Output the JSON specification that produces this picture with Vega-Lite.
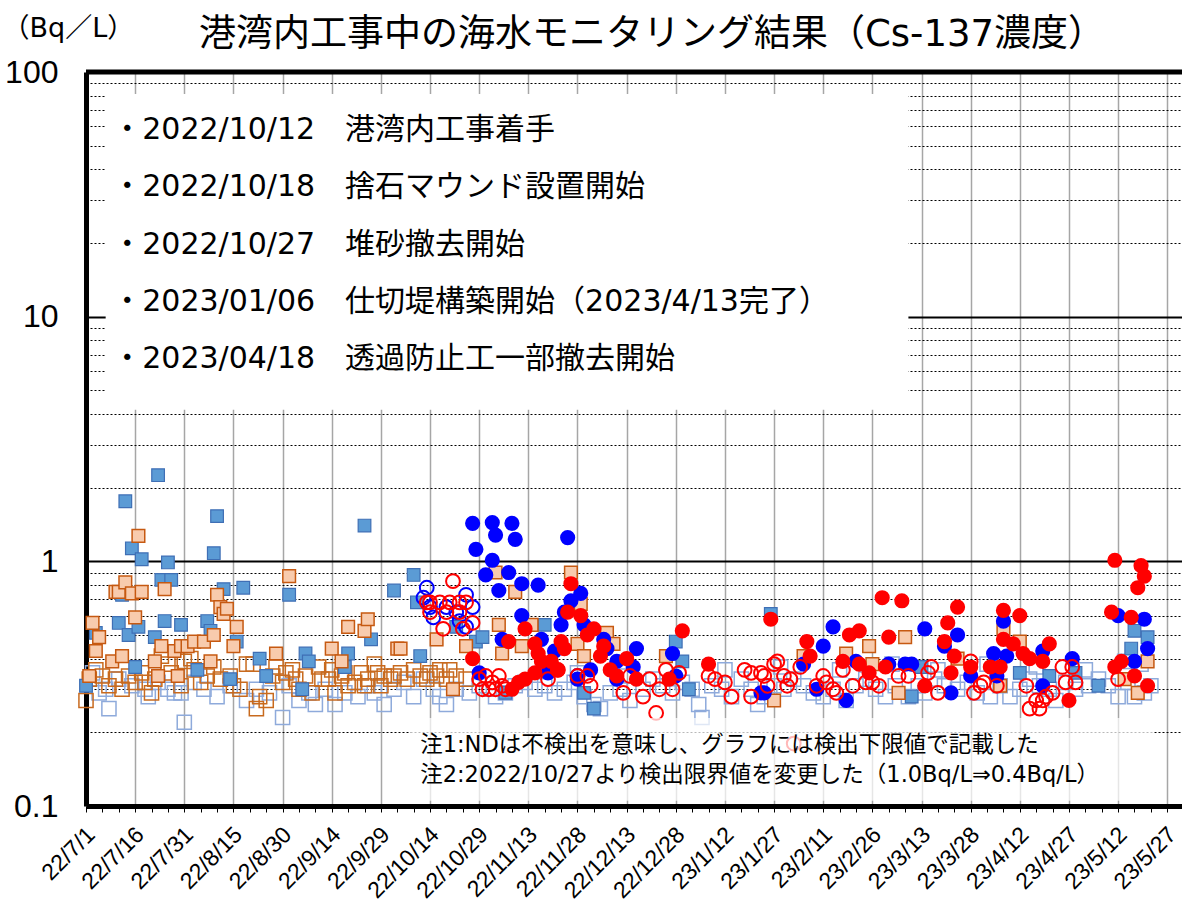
{
"$schema": "https://vega.github.io/schema/vega-lite/v6.json",
"width": 1096, "height": 734,
"autosize": {"type": "none"},
"padding": {"left": 86, "top": 72, "right": 0, "bottom": 117},
"background": "white",
"config": {"view": {"stroke": null}},
"title": {"text": "港湾内工事中の海水モニタリング結果（Cs-137濃度）", "font": "DejaVu Sans, Noto Sans CJK JP", "fontSize": 37, "fontWeight": "normal", "color": "black", "anchor": "middle", "frame": "group", "offset": 14, "dx": 18, "dy": 54},
"datasets": {
"bsqh": [
{"d":"2022-07-03","v":0.35},{"d":"2022-07-05","v":0.29},{"d":"2022-07-07","v":0.30},{"d":"2022-07-08","v":0.25},{"d":"2022-07-11","v":0.33},{"d":"2022-07-15","v":0.31},{"d":"2022-07-19","v":0.30},{"d":"2022-07-20","v":0.28},{"d":"2022-07-23","v":0.32},{"d":"2022-07-26","v":0.30},{"d":"2022-07-28","v":0.29},{"d":"2022-07-30","v":0.29},{"d":"2022-07-31","v":0.22},{"d":"2022-08-03","v":0.32},{"d":"2022-08-06","v":0.30},{"d":"2022-08-10","v":0.28},{"d":"2022-08-14","v":0.31},{"d":"2022-08-19","v":0.27},{"d":"2022-08-22","v":0.30},{"d":"2022-08-26","v":0.29},{"d":"2022-08-30","v":0.23},{"d":"2022-09-01","v":0.31},{"d":"2022-09-04","v":0.27},{"d":"2022-09-07","v":0.29},{"d":"2022-09-09","v":0.26},{"d":"2022-09-12","v":0.30},{"d":"2022-09-15","v":0.26},{"d":"2022-09-18","v":0.29},{"d":"2022-09-22","v":0.28},{"d":"2022-09-25","v":0.31},{"d":"2022-09-27","v":0.29},{"d":"2022-09-30","v":0.26},{"d":"2022-10-03","v":0.30},{"d":"2022-10-06","v":0.32},{"d":"2022-10-09","v":0.28},{"d":"2022-10-12","v":0.33},{"d":"2022-10-15","v":0.30},{"d":"2022-10-17","v":0.28},{"d":"2022-10-19","v":0.26},{"d":"2022-10-22","v":0.30},{"d":"2022-10-26","v":0.29},{"d":"2022-10-29","v":0.31},{"d":"2022-11-01","v":0.30},{"d":"2022-11-03","v":0.28},{"d":"2022-11-06","v":0.29},{"d":"2022-11-09","v":0.31},{"d":"2022-11-12","v":0.32},{"d":"2022-11-15","v":0.30},{"d":"2022-11-18","v":0.31},{"d":"2022-11-21","v":0.29},{"d":"2022-11-24","v":0.30},{"d":"2022-11-27","v":0.32},{"d":"2022-11-28","v":0.35},{"d":"2022-11-30","v":0.28},{"d":"2022-12-03","v":0.26},{"d":"2022-12-05","v":0.25},{"d":"2022-12-08","v":0.29},{"d":"2022-12-11","v":0.30},{"d":"2022-12-13","v":0.34},{"d":"2022-12-14","v":0.27},{"d":"2022-12-18","v":0.30},{"d":"2022-12-21","v":0.33},{"d":"2022-12-24","v":0.31},{"d":"2022-12-27","v":0.29},{"d":"2022-12-30","v":0.32},{"d":"2023-01-02","v":0.30},{"d":"2023-01-04","v":0.26},{"d":"2023-01-05","v":0.23},{"d":"2023-01-08","v":0.31},{"d":"2023-01-11","v":0.30},{"d":"2023-01-12","v":0.36},{"d":"2023-01-14","v":0.28},{"d":"2023-01-17","v":0.33},{"d":"2023-01-20","v":0.30},{"d":"2023-01-22","v":0.26},{"d":"2023-01-24","v":0.28},{"d":"2023-01-27","v":0.31},{"d":"2023-01-29","v":0.37},{"d":"2023-01-30","v":0.30},{"d":"2023-02-02","v":0.33},{"d":"2023-02-05","v":0.31},{"d":"2023-02-08","v":0.29},{"d":"2023-02-11","v":0.28},{"d":"2023-02-14","v":0.30},{"d":"2023-02-16","v":0.36},{"d":"2023-02-18","v":0.27},{"d":"2023-02-21","v":0.31},{"d":"2023-02-24","v":0.33},{"d":"2023-02-27","v":0.30},{"d":"2023-03-02","v":0.28},{"d":"2023-03-04","v":0.38},{"d":"2023-03-05","v":0.31},{"d":"2023-03-09","v":0.28},{"d":"2023-03-12","v":0.31},{"d":"2023-03-14","v":0.29},{"d":"2023-03-17","v":0.33},{"d":"2023-03-18","v":0.36},{"d":"2023-03-20","v":0.31},{"d":"2023-03-24","v":0.30},{"d":"2023-03-27","v":0.32},{"d":"2023-03-30","v":0.29},{"d":"2023-04-02","v":0.38},{"d":"2023-04-03","v":0.28},{"d":"2023-04-06","v":0.31},{"d":"2023-04-09","v":0.28},{"d":"2023-04-12","v":0.30},{"d":"2023-04-15","v":0.33},{"d":"2023-04-17","v":0.37},{"d":"2023-04-18","v":0.31},{"d":"2023-04-21","v":0.30},{"d":"2023-04-23","v":0.27},{"d":"2023-04-26","v":0.32},{"d":"2023-04-29","v":0.30},{"d":"2023-05-02","v":0.36},{"d":"2023-05-03","v":0.31},{"d":"2023-05-06","v":0.33},{"d":"2023-05-09","v":0.31},{"d":"2023-05-12","v":0.28},{"d":"2023-05-14","v":0.39},{"d":"2023-05-15","v":0.32},{"d":"2023-05-17","v":0.28},{"d":"2023-05-19","v":0.38},{"d":"2023-05-20","v":0.29},{"d":"2023-05-22","v":0.31}
],
"osqh": [
{"d":"2022-07-01","v":0.27},{"d":"2022-07-02","v":0.33},{"d":"2022-07-04","v":0.36},{"d":"2022-07-06","v":0.34},{"d":"2022-07-08","v":0.31},{"d":"2022-07-10","v":0.33},{"d":"2022-07-12","v":0.30},{"d":"2022-07-14","v":0.34},{"d":"2022-07-16","v":0.32},{"d":"2022-07-18","v":0.35},{"d":"2022-07-19","v":0.32},{"d":"2022-07-21","v":0.29},{"d":"2022-07-22","v":0.33},{"d":"2022-07-24","v":0.41},{"d":"2022-07-26","v":0.38},{"d":"2022-07-27","v":0.35},{"d":"2022-07-30","v":0.31},{"d":"2022-07-31","v":0.39},{"d":"2022-08-02","v":0.40},{"d":"2022-08-03","v":0.36},{"d":"2022-08-05","v":0.32},{"d":"2022-08-07","v":0.34},{"d":"2022-08-09","v":0.37},{"d":"2022-08-11","v":0.33},{"d":"2022-08-14","v":0.34},{"d":"2022-08-15","v":0.31},{"d":"2022-08-17","v":0.30},{"d":"2022-08-19","v":0.38},{"d":"2022-08-21","v":0.38},{"d":"2022-08-22","v":0.25},{"d":"2022-08-23","v":0.28},{"d":"2022-08-25","v":0.27},{"d":"2022-08-27","v":0.34},{"d":"2022-08-28","v":0.37},{"d":"2022-08-30","v":0.32},{"d":"2022-08-31","v":0.35},{"d":"2022-09-02","v":0.36},{"d":"2022-09-03","v":0.33},{"d":"2022-09-04","v":0.30},{"d":"2022-09-06","v":0.34},{"d":"2022-09-08","v":0.29},{"d":"2022-09-10","v":0.37},{"d":"2022-09-11","v":0.33},{"d":"2022-09-13","v":0.33},{"d":"2022-09-14","v":0.36},{"d":"2022-09-15","v":0.29},{"d":"2022-09-17","v":0.34},{"d":"2022-09-18","v":0.35},{"d":"2022-09-19","v":0.31},{"d":"2022-09-21","v":0.32},{"d":"2022-09-23","v":0.35},{"d":"2022-09-24","v":0.31},{"d":"2022-09-25","v":0.33},{"d":"2022-09-27","v":0.38},{"d":"2022-09-28","v":0.35},{"d":"2022-09-29","v":0.31},{"d":"2022-09-30","v":0.34},{"d":"2022-10-02","v":0.33},{"d":"2022-10-03","v":0.34},{"d":"2022-10-05","v":0.35},{"d":"2022-10-07","v":0.33},{"d":"2022-10-09","v":0.36},{"d":"2022-10-11","v":0.34},{"d":"2022-10-13","v":0.33},{"d":"2022-10-14","v":0.35},{"d":"2022-10-16","v":0.34},{"d":"2022-10-17","v":0.36},{"d":"2022-10-19","v":0.33},{"d":"2022-10-20","v":0.36},{"d":"2022-10-22","v":0.34},{"d":"2022-10-25","v":0.33}
],
"bsq": [
{"d":"2022-07-01","v":0.31},{"d":"2022-07-04","v":0.51},{"d":"2022-07-11","v":0.56},{"d":"2022-07-12","v":0.73},{"d":"2022-07-13","v":1.76},{"d":"2022-07-14","v":0.50},{"d":"2022-07-15","v":1.13},{"d":"2022-07-16","v":0.37},{"d":"2022-07-17","v":0.54},{"d":"2022-07-18","v":1.02},{"d":"2022-07-22","v":0.49},{"d":"2022-07-23","v":2.25},{"d":"2022-07-24","v":0.84},{"d":"2022-07-25","v":0.57},{"d":"2022-07-26","v":0.99},{"d":"2022-07-27","v":0.84},{"d":"2022-07-30","v":0.55},{"d":"2022-08-04","v":0.36},{"d":"2022-08-07","v":0.57},{"d":"2022-08-08","v":0.52},{"d":"2022-08-09","v":1.08},{"d":"2022-08-10","v":1.53},{"d":"2022-08-12","v":0.77},{"d":"2022-08-14","v":0.33},{"d":"2022-08-16","v":0.47},{"d":"2022-08-18","v":0.78},{"d":"2022-08-23","v":0.40},{"d":"2022-08-25","v":0.34},{"d":"2022-09-01","v":0.73},{"d":"2022-09-05","v":0.30},{"d":"2022-09-06","v":0.42},{"d":"2022-09-07","v":0.39},{"d":"2022-09-18","v":0.37},{"d":"2022-09-19","v":0.42},{"d":"2022-09-24","v":1.40},{"d":"2022-09-26","v":0.48},{"d":"2022-10-03","v":0.76},{"d":"2022-10-09","v":0.88},{"d":"2022-10-10","v":0.68},{"d":"2022-10-11","v":0.41},{"d":"2022-10-22","v":0.54},{"d":"2022-10-28","v":0.47},{"d":"2022-10-30","v":0.49},{"d":"2022-11-06","v":0.29},{"d":"2022-11-18","v":0.55},{"d":"2022-11-30","v":0.29},{"d":"2022-12-03","v":0.25},{"d":"2022-12-28","v":0.47},{"d":"2022-12-30","v":0.39},{"d":"2023-01-01","v":0.30},{"d":"2023-01-26","v":0.61},{"d":"2023-03-10","v":0.28},{"d":"2023-03-13","v":0.37},{"d":"2023-04-12","v":0.35},{"d":"2023-04-21","v":0.34},{"d":"2023-04-29","v":0.35},{"d":"2023-05-06","v":0.31},{"d":"2023-05-16","v":0.44},{"d":"2023-05-17","v":0.52},{"d":"2023-05-21","v":0.49}
],
"osq": [
{"d":"2022-07-02","v":0.34},{"d":"2022-07-03","v":0.56},{"d":"2022-07-04","v":0.43},{"d":"2022-07-05","v":0.49},{"d":"2022-07-09","v":0.39},{"d":"2022-07-10","v":0.75},{"d":"2022-07-11","v":0.75},{"d":"2022-07-12","v":0.41},{"d":"2022-07-13","v":0.82},{"d":"2022-07-15","v":0.74},{"d":"2022-07-16","v":0.59},{"d":"2022-07-17","v":1.27},{"d":"2022-07-18","v":0.75},{"d":"2022-07-22","v":0.39},{"d":"2022-07-23","v":0.34},{"d":"2022-07-24","v":0.45},{"d":"2022-07-25","v":0.77},{"d":"2022-07-28","v":0.43},{"d":"2022-07-29","v":0.34},{"d":"2022-07-30","v":0.45},{"d":"2022-08-01","v":0.45},{"d":"2022-08-03","v":0.47},{"d":"2022-08-06","v":0.47},{"d":"2022-08-08","v":0.39},{"d":"2022-08-09","v":0.50},{"d":"2022-08-10","v":0.73},{"d":"2022-08-11","v":0.65},{"d":"2022-08-12","v":0.61},{"d":"2022-08-13","v":0.64},{"d":"2022-08-15","v":0.45},{"d":"2022-08-16","v":0.54},{"d":"2022-08-28","v":0.42},{"d":"2022-09-01","v":0.87},{"d":"2022-09-14","v":0.44},{"d":"2022-09-17","v":0.39},{"d":"2022-09-19","v":0.54},{"d":"2022-09-24","v":0.52},{"d":"2022-09-25","v":0.58},{"d":"2022-10-04","v":0.44},{"d":"2022-10-05","v":0.44},{"d":"2022-10-16","v":0.48},{"d":"2022-10-21","v":0.30},{"d":"2022-10-25","v":0.45},{"d":"2022-11-03","v":0.90},{"d":"2022-11-04","v":0.55},{"d":"2022-11-05","v":0.42},{"d":"2022-11-09","v":0.75},{"d":"2022-11-11","v":0.45},{"d":"2022-11-14","v":0.55},{"d":"2022-11-26","v":0.90},{"d":"2022-11-28","v":0.46},{"d":"2022-11-29","v":0.67},{"d":"2022-11-30","v":0.41},{"d":"2022-12-07","v":0.51},{"d":"2022-12-09","v":0.46},{"d":"2022-12-25","v":0.41},{"d":"2023-01-27","v":0.27},{"d":"2023-02-05","v":0.41},{"d":"2023-02-18","v":0.42},{"d":"2023-02-25","v":0.45},{"d":"2023-02-26","v":0.38},{"d":"2023-03-06","v":0.29},{"d":"2023-03-08","v":0.49},{"d":"2023-03-24","v":0.40},{"d":"2023-04-06","v":0.31},{"d":"2023-04-07","v":0.53},{"d":"2023-04-12","v":0.47},{"d":"2023-05-14","v":0.33},{"d":"2023-05-18","v":0.29},{"d":"2023-05-21","v":0.39}
],
"bch": [
{"d":"2022-10-12","v":0.71},{"d":"2022-10-13","v":0.78},{"d":"2022-10-14","v":0.65},{"d":"2022-10-15","v":0.59},{"d":"2022-10-19","v":0.65},{"d":"2022-10-22","v":0.62},{"d":"2022-10-23","v":0.57},{"d":"2022-10-25","v":0.73},{"d":"2022-10-25","v":0.54},{"d":"2022-10-27","v":0.65},{"d":"2022-11-20","v":0.37},{"d":"2022-11-28","v":0.34}
],
"bc": [
{"d":"2022-10-27","v":1.43},{"d":"2022-10-28","v":1.12},{"d":"2022-10-29","v":0.35},{"d":"2022-10-31","v":0.88},{"d":"2022-11-02","v":1.44},{"d":"2022-11-02","v":1.01},{"d":"2022-11-03","v":1.28},{"d":"2022-11-04","v":0.76},{"d":"2022-11-05","v":0.48},{"d":"2022-11-07","v":0.90},{"d":"2022-11-08","v":1.43},{"d":"2022-11-09","v":1.23},{"d":"2022-11-11","v":0.81},{"d":"2022-11-11","v":0.60},{"d":"2022-11-16","v":0.80},{"d":"2022-11-17","v":0.48},{"d":"2022-11-19","v":0.35},{"d":"2022-11-21","v":0.43},{"d":"2022-11-23","v":0.55},{"d":"2022-11-24","v":0.62},{"d":"2022-11-25","v":1.25},{"d":"2022-11-26","v":0.69},{"d":"2022-11-28","v":0.33},{"d":"2022-11-29","v":0.74},{"d":"2022-11-30","v":0.55},{"d":"2022-12-02","v":0.36},{"d":"2022-12-06","v":0.48},{"d":"2022-12-07","v":0.44},{"d":"2022-12-10","v":0.39},{"d":"2022-12-10","v":0.33},{"d":"2022-12-15","v":0.37},{"d":"2022-12-16","v":0.44},{"d":"2022-12-27","v":0.42},{"d":"2022-12-28","v":0.34},{"d":"2023-01-23","v":0.29},{"d":"2023-01-24","v":0.29},{"d":"2023-02-05","v":0.38},{"d":"2023-02-09","v":0.30},{"d":"2023-02-11","v":0.45},{"d":"2023-02-14","v":0.54},{"d":"2023-02-18","v":0.27},{"d":"2023-02-21","v":0.39},{"d":"2023-03-03","v":0.38},{"d":"2023-03-08","v":0.38},{"d":"2023-03-10","v":0.38},{"d":"2023-03-14","v":0.53},{"d":"2023-03-20","v":0.45},{"d":"2023-03-22","v":0.29},{"d":"2023-03-24","v":0.50},{"d":"2023-03-28","v":0.34},{"d":"2023-04-04","v":0.42},{"d":"2023-04-05","v":0.34},{"d":"2023-04-07","v":0.57},{"d":"2023-04-08","v":0.41},{"d":"2023-04-19","v":0.43},{"d":"2023-04-19","v":0.31},{"d":"2023-04-28","v":0.40},{"d":"2023-05-12","v":0.60},{"d":"2023-05-17","v":0.39},{"d":"2023-05-20","v":0.58},{"d":"2023-05-21","v":0.44}
],
"rch": [
{"d":"2022-10-13","v":0.68},{"d":"2022-10-14","v":0.68},{"d":"2022-10-14","v":0.62},{"d":"2022-10-17","v":0.68},{"d":"2022-10-18","v":0.53},{"d":"2022-10-19","v":0.62},{"d":"2022-10-20","v":0.68},{"d":"2022-10-21","v":0.83},{"d":"2022-10-23","v":0.68},{"d":"2022-10-23","v":0.62},{"d":"2022-10-24","v":0.53},{"d":"2022-10-25","v":0.68},{"d":"2022-10-27","v":0.56},{"d":"2022-10-29","v":0.33},{"d":"2022-10-30","v":0.30},{"d":"2022-10-31","v":0.34},{"d":"2022-11-01","v":0.30},{"d":"2022-11-02","v":0.32},{"d":"2022-11-03","v":0.30},{"d":"2022-11-04","v":0.34},{"d":"2022-11-05","v":0.31},{"d":"2022-11-06","v":0.30},{"d":"2022-11-19","v":0.33},{"d":"2022-11-22","v":0.36},{"d":"2022-11-28","v":0.34},{"d":"2022-12-01","v":0.34},{"d":"2022-12-02","v":0.31},{"d":"2022-12-12","v":0.29},{"d":"2022-12-14","v":0.34},{"d":"2022-12-18","v":0.28},{"d":"2022-12-20","v":0.33},{"d":"2022-12-22","v":0.24},{"d":"2022-12-23","v":0.30},{"d":"2022-12-25","v":0.36},{"d":"2022-12-27","v":0.30},{"d":"2022-12-29","v":0.35},{"d":"2023-01-07","v":0.34},{"d":"2023-01-09","v":0.33},{"d":"2023-01-12","v":0.32},{"d":"2023-01-14","v":0.28},{"d":"2023-01-18","v":0.36},{"d":"2023-01-20","v":0.35},{"d":"2023-01-20","v":0.28},{"d":"2023-01-23","v":0.35},{"d":"2023-01-24","v":0.34},{"d":"2023-01-25","v":0.31},{"d":"2023-01-27","v":0.38},{"d":"2023-01-28","v":0.39},{"d":"2023-01-30","v":0.34},{"d":"2023-01-31","v":0.31},{"d":"2023-02-01","v":0.33},{"d":"2023-02-02","v":0.18},{"d":"2023-02-04","v":0.37},{"d":"2023-02-09","v":0.31},{"d":"2023-02-11","v":0.34},{"d":"2023-02-12","v":0.32},{"d":"2023-02-14","v":0.30},{"d":"2023-02-15","v":0.29},{"d":"2023-02-17","v":0.36},{"d":"2023-02-20","v":0.31},{"d":"2023-02-24","v":0.32},{"d":"2023-02-26","v":0.32},{"d":"2023-02-28","v":0.31},{"d":"2023-03-06","v":0.34},{"d":"2023-03-09","v":0.34},{"d":"2023-03-15","v":0.35},{"d":"2023-03-16","v":0.37},{"d":"2023-03-18","v":0.29},{"d":"2023-03-28","v":0.39},{"d":"2023-03-29","v":0.29},{"d":"2023-03-31","v":0.31},{"d":"2023-04-01","v":0.32},{"d":"2023-04-05","v":0.31},{"d":"2023-04-14","v":0.31},{"d":"2023-04-15","v":0.25},{"d":"2023-04-17","v":0.27},{"d":"2023-04-18","v":0.25},{"d":"2023-04-19","v":0.27},{"d":"2023-04-20","v":0.28},{"d":"2023-04-22","v":0.29},{"d":"2023-04-25","v":0.37},{"d":"2023-04-26","v":0.32},{"d":"2023-04-28","v":0.37},{"d":"2023-04-29","v":0.32},{"d":"2023-05-12","v":0.33}
],
"rc": [
{"d":"2022-10-27","v":0.40},{"d":"2022-11-07","v":0.47},{"d":"2022-11-08","v":0.30},{"d":"2022-11-10","v":0.32},{"d":"2022-11-12","v":0.53},{"d":"2022-11-12","v":0.33},{"d":"2022-11-15","v":0.46},{"d":"2022-11-15","v":0.35},{"d":"2022-11-16","v":0.42},{"d":"2022-11-17","v":0.39},{"d":"2022-11-20","v":0.39},{"d":"2022-11-22","v":0.36},{"d":"2022-11-23","v":0.47},{"d":"2022-11-24","v":0.44},{"d":"2022-11-25","v":0.62},{"d":"2022-11-26","v":0.81},{"d":"2022-11-29","v":0.60},{"d":"2022-12-01","v":0.50},{"d":"2022-12-03","v":0.53},{"d":"2022-12-05","v":0.41},{"d":"2022-12-06","v":0.45},{"d":"2022-12-08","v":0.36},{"d":"2022-12-10","v":0.34},{"d":"2022-12-13","v":0.40},{"d":"2022-12-16","v":0.33},{"d":"2022-12-26","v":0.33},{"d":"2022-12-30","v":0.52},{"d":"2023-01-07","v":0.38},{"d":"2023-01-26","v":0.58},{"d":"2023-02-06","v":0.47},{"d":"2023-02-07","v":0.41},{"d":"2023-02-17","v":0.39},{"d":"2023-02-19","v":0.50},{"d":"2023-02-22","v":0.52},{"d":"2023-02-22","v":0.38},{"d":"2023-02-25","v":0.35},{"d":"2023-03-01","v":0.71},{"d":"2023-03-02","v":0.37},{"d":"2023-03-03","v":0.49},{"d":"2023-03-07","v":0.69},{"d":"2023-03-14","v":0.31},{"d":"2023-03-20","v":0.47},{"d":"2023-03-21","v":0.56},{"d":"2023-03-22","v":0.35},{"d":"2023-03-23","v":0.41},{"d":"2023-03-24","v":0.65},{"d":"2023-03-28","v":0.37},{"d":"2023-04-03","v":0.37},{"d":"2023-04-06","v":0.37},{"d":"2023-04-07","v":0.63},{"d":"2023-04-07","v":0.48},{"d":"2023-04-10","v":0.46},{"d":"2023-04-12","v":0.60},{"d":"2023-04-13","v":0.42},{"d":"2023-04-15","v":0.40},{"d":"2023-04-19","v":0.39},{"d":"2023-04-21","v":0.46},{"d":"2023-04-27","v":0.27},{"d":"2023-05-10","v":0.62},{"d":"2023-05-11","v":1.01},{"d":"2023-05-11","v":0.37},{"d":"2023-05-13","v":0.39},{"d":"2023-05-16","v":0.59},{"d":"2023-05-17","v":0.34},{"d":"2023-05-18","v":0.78},{"d":"2023-05-19","v":0.96},{"d":"2023-05-20","v":0.87},{"d":"2023-05-21","v":0.31}
]
},
"layer": [
{
"encoding": {
"x": {"field": "d", "type": "temporal",
 "scale": {"type": "utc", "domain": [1656633600000, 1685534400000]},
 "axis": {
  "title": null, "tickCount": 200,
  "values": [1656633600000,1657065600000,1657497600000,1657929600000,1658361600000,1658793600000,1659225600000,1659657600000,1660089600000,1660521600000,1660953600000,1661385600000,1661817600000,1662249600000,1662681600000,1663113600000,1663545600000,1663977600000,1664409600000,1664841600000,1665273600000,1665705600000,1666137600000,1666569600000,1667001600000,1667433600000,1667865600000,1668297600000,1668729600000,1669161600000,1669593600000,1670025600000,1670457600000,1670889600000,1671321600000,1671753600000,1672185600000,1672617600000,1673049600000,1673481600000,1673913600000,1674345600000,1674777600000,1675209600000,1675641600000,1676073600000,1676505600000,1676937600000,1677369600000,1677801600000,1678233600000,1678665600000,1679097600000,1679529600000,1679961600000,1680393600000,1680825600000,1681257600000,1681689600000,1682121600000,1682553600000,1682985600000,1683417600000,1683849600000,1684281600000,1684713600000,1685145600000],
  "labelExpr": "round((datum.value - 1656633600000) / 86400000) % 15 === 0 ? utcFormat(datum.value, '%y/%-m/%-d') : ''",
  "labelAngle": -45, "labelFont": "Liberation Sans", "labelFontSize": 23, "labelColor": "black", "labelPadding": 11, "labelOffset": -3,
  "labelOverlap": false, "labelBound": false, "labelFlush": false,
  "domainColor": "black", "domainWidth": 5,
  "ticks": true, "tickColor": "black", "tickSize": 6, "tickWidth": 1,
  "grid": true, "gridColor": "#a6a6a6", "gridWidth": 1.5,
  "gridOpacity": {"condition": {"test": "round((datum.value - 1656633600000) / 86400000) % 15 === 0", "value": 1}, "value": 0}
 }
},
"y": {"field": "v", "type": "quantitative",
 "scale": {"type": "log", "domain": [0.1, 100], "nice": false},
 "axis": {
  "tickCount": 200,
  "values": [0.1,0.2,0.3,0.4,0.5,0.6,0.7,0.8,0.9,1,2,3,4,5,6,7,8,9,10,20,30,40,50,60,70,80,90,100],
  "title": "（Bq／L）", "titleAngle": 0, "titleX": -84, "titleY": -44, "titleAlign": "left", "titleBaseline": "middle",
  "titleFont": "DejaVu Sans, Noto Sans CJK JP", "titleFontSize": 27, "titleFontWeight": "normal", "titleColor": "black",
  "labelExpr": "indexof([0.1, 1, 10, 100], datum.value) >= 0 ? format(datum.value, '~g') : ''",
  "labelFont": "Liberation Sans", "labelFontSize": 32, "labelColor": "black", "labelPadding": 28,
  "labelOverlap": false, "labelBound": false, "labelFlush": false,
  "ticks": false, "tickSize": 0,
  "domainColor": "black", "domainWidth": 5,
  "grid": true, "gridColor": "black",
  "gridWidth": {"condition": {"test": "datum.value === 1 || datum.value === 10", "value": 2}, "value": 1},
  "gridDash": {"condition": {"test": "datum.value === 1 || datum.value === 10", "value": []}, "value": [2, 2]},
  "gridOpacity": {"condition": {"test": "datum.value === 0.1 || datum.value === 100", "value": 0}, "value": 1}
 }
}
},
"layer": [
{"data": {"name": "bsqh"}, "mark": {"type": "point", "shape": "square", "filled": false, "size": 200, "color": "#8eaadb", "stroke": "#8eaadb", "strokeWidth": 1.5, "opacity": 1}},
{"data": {"name": "osqh"}, "mark": {"type": "point", "shape": "square", "filled": false, "size": 200, "color": "#c86a1e", "stroke": "#c86a1e", "strokeWidth": 1.5, "opacity": 1}},
{"data": {"name": "bsq"}, "mark": {"type": "point", "shape": "square", "filled": true, "size": 160, "color": "#5b9bd5", "fill": "#5b9bd5", "stroke": "#3f6fb5", "strokeWidth": 1.2, "opacity": 1}},
{"data": {"name": "osq"}, "mark": {"type": "point", "shape": "square", "filled": true, "size": 160, "color": "#f8cbad", "fill": "#f8cbad", "stroke": "#c65911", "strokeWidth": 1.5, "opacity": 1}},
{"data": {"name": "bch"}, "mark": {"type": "point", "shape": "circle", "filled": false, "size": 190, "color": "#0000ff", "stroke": "#0000ff", "strokeWidth": 2, "opacity": 1}},
{"data": {"name": "bc"}, "mark": {"type": "point", "shape": "circle", "filled": true, "size": 230, "color": "#0000ff", "fill": "#0000ff", "strokeWidth": 0, "opacity": 1}},
{"data": {"name": "rch"}, "mark": {"type": "point", "shape": "circle", "filled": false, "size": 190, "color": "#ff0000", "stroke": "#ff0000", "strokeWidth": 2, "opacity": 1}},
{"data": {"name": "rc"}, "mark": {"type": "point", "shape": "circle", "filled": true, "size": 230, "color": "#ff0000", "fill": "#ff0000", "strokeWidth": 0, "opacity": 1}}
]
},
{"data": {"values": [{}]}, "mark": {"type": "rect", "fill": "white", "opacity": 1},
 "encoding": {
  "x": {"datum": {"year": 2022, "month": 7, "date": 7, "utc": true}, "type": "temporal"},
  "x2": {"datum": {"year": 2023, "month": 3, "date": 9, "utc": true}},
  "y": {"datum": 81.3, "type": "quantitative"},
  "y2": {"datum": 4.16}
 }},
{"data": {"values": [{}]}, "mark": {"type": "text", "align": "left", "baseline": "top", "font": "DejaVu Sans, Noto Sans CJK JP", "fontSize": 30, "lineHeight": 57.2, "color": "black",
  "text": ["・2022/10/12　港湾内工事着手", "・2022/10/18　捨石マウンド設置開始", "・2022/10/27　堆砂撤去開始", "・2023/01/06　仕切堤構築開始（2023/4/13完了）", "・2023/04/18　透過防止工一部撤去開始"]},
 "encoding": {
  "x": {"datum": {"year": 2022, "month": 7, "date": 9, "utc": true}, "type": "temporal"},
  "y": {"datum": 66.6, "type": "quantitative"}
 }},
{"data": {"values": [{}]}, "mark": {"type": "rect", "fill": "white", "opacity": 0.72},
 "encoding": {
  "x": {"datum": {"year": 2022, "month": 10, "date": 8, "utc": true}, "type": "temporal"},
  "x2": {"datum": {"year": 2023, "month": 5, "date": 23, "utc": true}},
  "y": {"datum": 0.229, "type": "quantitative"},
  "y2": {"datum": 0.105}
 }},
{"data": {"values": [{}]}, "mark": {"type": "text", "align": "left", "baseline": "top", "font": "DejaVu Sans, Noto Sans CJK JP", "fontSize": 22.5, "lineHeight": 30, "color": "black",
  "text": ["注1:NDは不検出を意味し、グラフには検出下限値で記載した", "注2:2022/10/27より検出限界値を変更した（1.0Bq/L⇒0.4Bq/L）"]},
 "encoding": {
  "x": {"datum": {"year": 2022, "month": 10, "date": 11, "utc": true}, "type": "temporal"},
  "y": {"datum": 0.197, "type": "quantitative"}
 }},
{"data": {"values": [{}]}, "mark": {"type": "rule", "color": "black", "strokeWidth": 5},
 "encoding": {"y": {"datum": 100, "type": "quantitative"}}}
]
}
